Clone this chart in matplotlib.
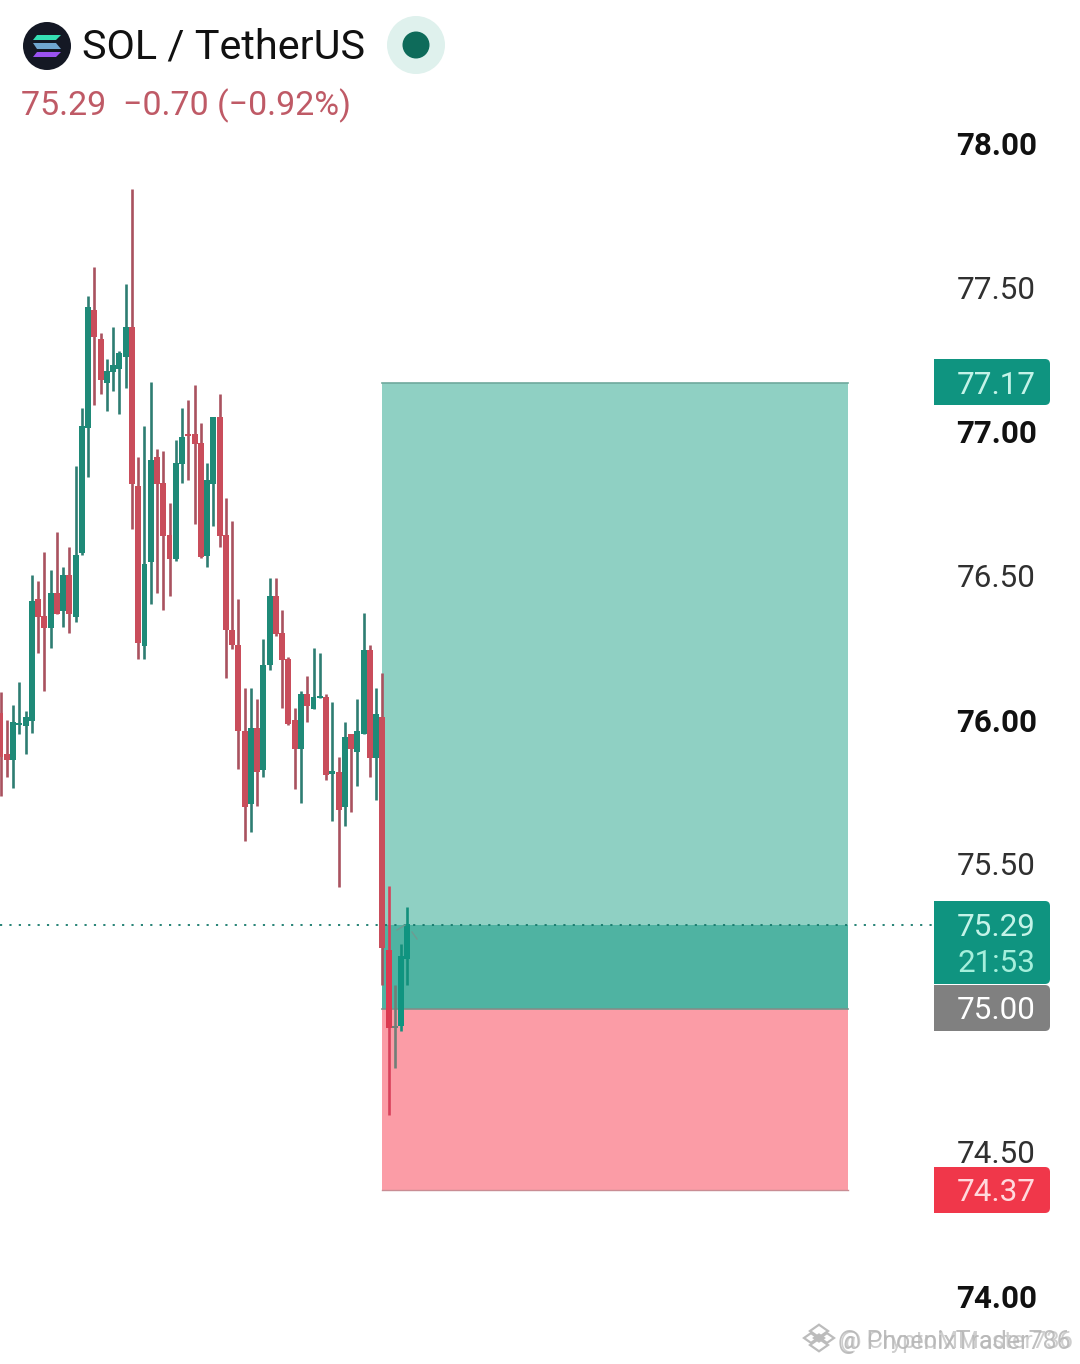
import matplotlib
matplotlib.use("Agg")
import matplotlib.pyplot as plt
from matplotlib.patches import Circle, FancyBboxPatch, Polygon, Rectangle

plt.rcParams['font.family'] = ['Roboto', 'DejaVu Sans']

# candles, oldest first
opens = [76.026, 75.884, 75.863, 75.984, 75.981, 75.998, 76.422, 76.363, 76.321, 76.442, 76.380,
         76.505, 76.359, 76.581, 77.015, 77.424, 77.324, 77.171, 77.209, 77.219, 77.261, 77.365,
         76.814, 76.259, 76.550, 76.914, 76.824, 76.644, 76.560, 76.890, 76.994, 76.994, 76.963,
         76.571, 76.821, 77.053, 76.644, 76.314, 76.262, 75.964, 75.710, 75.974, 75.828, 76.193,
         76.432, 76.304, 76.213, 76.002, 75.901, 76.092, 76.040, 76.078, 76.082, 75.815, 75.821,
         75.700, 75.953, 75.891, 75.953, 76.245, 75.870, 76.012, 75.204, 74.933, 74.940, 75.173]
highs = [76.099, 76.002, 76.054, 76.134, 76.033, 76.505, 76.484, 76.585, 76.522, 76.654, 76.533,
         76.602, 76.883, 77.084, 77.473, 77.573, 77.344, 77.254, 77.365, 77.282, 77.514, 77.844,
         76.914, 77.022, 77.174, 76.942, 76.935, 76.755, 76.973, 77.084, 77.112, 77.164, 77.032,
         76.893, 77.053, 77.133, 76.772, 76.692, 76.422, 76.113, 76.113, 76.075, 76.283, 76.494,
         76.494, 76.383, 76.220, 76.043, 76.102, 76.154, 76.252, 76.234, 76.092, 76.064, 75.873,
         75.995, 75.953, 76.075, 76.373, 76.262, 76.113, 76.165, 75.426, 75.083, 75.225, 75.353]
lows = [75.738, 75.804, 75.766, 75.953, 75.884, 75.957, 76.234, 76.102, 76.252, 76.370, 76.324,
        76.304, 76.342, 76.574, 76.845, 77.095, 77.133, 77.074, 77.143, 77.063, 77.154, 76.664,
        76.213, 76.213, 76.404, 76.442, 76.383, 76.432, 76.553, 76.824, 76.834, 76.682, 76.564,
        76.533, 76.675, 76.602, 76.148, 76.248, 75.832, 75.582, 75.613, 75.704, 75.804, 76.175,
        76.293, 76.043, 75.984, 75.762, 75.714, 75.995, 76.040, 76.078, 75.794, 75.651, 75.423,
        75.634, 75.683, 75.773, 75.953, 75.804, 75.724, 75.083, 74.632, 74.795, 74.923, 75.083]
closes = [75.873, 75.863, 75.995, 75.988, 76.012, 76.415, 76.359, 76.321, 76.442, 76.370, 76.505,
          76.370, 76.574, 77.022, 77.435, 77.330, 77.181, 77.213, 77.233, 77.275, 77.365, 76.821,
          76.269, 76.543, 76.904, 76.821, 76.640, 76.560, 76.893, 76.984, 76.987, 76.959, 76.567,
          76.834, 77.053, 76.640, 76.314, 76.262, 75.964, 75.700, 75.974, 75.821, 76.193, 76.432,
          76.300, 76.210, 75.988, 75.901, 76.092, 76.050, 76.082, 76.082, 75.811, 75.825, 75.690,
          75.943, 75.901, 75.964, 76.245, 75.870, 76.023, 75.211, 74.933, 74.937, 75.183, 75.294]

target_price = 77.17
entry_price = 75.00
stop_price = 74.37
last_price = 75.29

scale_prices = [78.0, 77.5, 77.0, 76.5, 76.0, 75.5, 74.5, 74.0]
scale_labels = ['78.00', '77.50', '77.00', '76.50', '76.00', '75.50', '74.50', '74.00']
scale_bold = [True, False, True, False, True, False, False, True]

WIDTH, HEIGHT = 1080, 1364
PX_PER_BAR = 6.26
PX_PER_UNIT = 288.25
BAR0_PX = 0.5
ZONE_LEFT, ZONE_RIGHT = 382, 848


def bar_at(px):
    return (px - BAR0_PX) / PX_PER_BAR


def y_px(price):
    return 144 + (78.0 - price) * PX_PER_UNIT


fig = plt.figure(figsize=(WIDTH / 100, HEIGHT / 100), dpi=100, facecolor='white')
ax = fig.add_axes([0, 0, 1, 1])
ax.set_xlim(bar_at(0), bar_at(WIDTH))
ax.set_ylim(78.0 - (HEIGHT - 144) / PX_PER_UNIT, 78.0 + 144 / PX_PER_UNIT)
ax.axis('off')

# overlay in pixels for header and price tags
top = fig.add_axes([0, 0, 1, 1], zorder=5)
top.set_xlim(0, WIDTH)
top.set_ylim(HEIGHT, 0)
top.axis('off')
top.patch.set_alpha(0)

# position tool
z0, z1 = bar_at(ZONE_LEFT), bar_at(ZONE_RIGHT)
ax.add_patch(Rectangle((z0, entry_price), z1 - z0, target_price - entry_price, fc='#8fd0c3', ec='none', zorder=1))
ax.add_patch(Rectangle((z0, entry_price), z1 - z0, last_price - entry_price, fc='#4fb3a2', ec='none', zorder=1.1))
ax.add_patch(Rectangle((z0, stop_price), z1 - z0, entry_price - stop_price, fc='#fb9ca6', ec='none', zorder=1))
ax.plot([z0, z1], [target_price, target_price], color='#6fa99d', lw=1.2, zorder=1.2)
ax.plot([z0, z1], [entry_price, entry_price], color='#7d8f8a', lw=1.2, zorder=1.2)
ax.plot([z0, z1], [stop_price, stop_price], color='#c98d94', lw=1.0, zorder=1.2)

# candles
for i in range(len(opens)):
    up = closes[i] >= opens[i]
    body = '#1f8a78' if up else '#c94d5b'
    wick = '#2e7d72' if up else '#a9525f'
    if i == 63:
        wick = body = '#6f7f78'
    elif i > 61:
        body = '#0f9480' if up else '#dc3a50'
        wick = '#12907c' if up else '#d8405a'
    ax.vlines(i, lows[i], highs[i], color=wick, lw=1.9, zorder=3)
    lo, hi = min(opens[i], closes[i]), max(opens[i], closes[i])
    ax.bar(i, max(hi - lo, 0.006), bottom=lo, width=0.95, color=body, lw=0, zorder=3.1)

# last price line
ax.plot([bar_at(0), bar_at(934)], [last_price, last_price], color='#15796b', lw=1.3,
        ls=(0, (1.2, 4.0)), zorder=2)

# price scale
for price, label, bold in zip(scale_prices, scale_labels, scale_bold):
    top.text(996.5, y_px(price) - 1, label, ha='center', va='center_baseline', fontsize=22.6,
             fontweight='bold' if bold else 'normal', color='#111111' if bold else '#303030')


def price_tag(y0, y1, color):
    top.add_patch(FancyBboxPatch((934, y0), 116, y1 - y0, boxstyle='round,pad=0,rounding_size=5',
                                 fc=color, ec='none', zorder=2))
    top.add_patch(Rectangle((934, y0), 20, y1 - y0, fc=color, ec='none', zorder=2))


price_tag(359, 405, '#0f9480')
top.text(996.5, y_px(target_price) - 1, '77.17', ha='center', va='center_baseline', fontsize=22.6, color='#c4f3e8', zorder=3)
price_tag(901, 984, '#0f9480')
top.text(996.5, 924, '75.29', ha='center', va='center_baseline', fontsize=22.6, color='#c4f3e8', zorder=3)
top.text(996.5, 961, '21:53', ha='center', va='center_baseline', fontsize=22.6, color='#a5efdc', zorder=3)
price_tag(985, 1031, '#808080')
top.text(996.5, y_px(entry_price) - 1, '75.00', ha='center', va='center_baseline', fontsize=22.6, color='white', zorder=3)
price_tag(1167, 1213, '#f0374a')
top.text(996.5, y_px(stop_price) - 1, '74.37', ha='center', va='center_baseline', fontsize=22.6, color='#ffd9dd', zorder=3)

# header
top.add_patch(Circle((47, 46), 24, fc='#141824', ec='none'))
top.add_patch(Polygon([(37, 35), (61, 35), (56, 40), (33, 40)], fc='#35dfb4', ec='none'))
top.add_patch(Polygon([(33, 43), (56, 43), (61, 49), (37, 49)], fc='#6fa6cf', ec='none'))
top.add_patch(Polygon([(37, 52), (61, 52), (56, 57), (33, 57)], fc='#9a52f0', ec='none'))
top.text(82, 43, 'SOL / TetherUS', ha='left', va='center_baseline', fontsize=29.8, color='#111111')
top.add_patch(Circle((416, 45), 29, fc='#dff1ed', ec='none'))
top.add_patch(Circle((416, 45), 13.5, fc='#0e6b5a', ec='none'))
top.text(21, 102, '75.29  \u22120.70 (\u22120.92%)', ha='left', va='center_baseline', fontsize=24.5, color='#bf5a66')

# arrow tips on the last candle
top.plot([397, 405], [930, 925], color='#6f9b92', lw=1.0)
top.plot([412, 417], [932, 939], color='#6f9b92', lw=1.0)

# watermark, two copies on top of each other
top.text(838, 1339, '@ PhoenixTrader786', ha='left', va='center_baseline', fontsize=18.0, color='#aaaaaa', alpha=0.75)
top.text(840, 1339, '@ CryptoMMaster736', ha='left', va='center_baseline', fontsize=17.2, color='#b5b5b5', alpha=0.65)
for dx, dy, r in [(819, 1331, 9), (811, 1338, 7), (827, 1338, 7), (819, 1345, 9), (819, 1338, 5)]:
    top.add_patch(Polygon([(dx - r, dy), (dx, dy - r * 0.7), (dx + r, dy), (dx, dy + r * 0.7)], fc='none', ec='#bcbcbc', lw=1.6))

fig.savefig('out.png', dpi=100)
